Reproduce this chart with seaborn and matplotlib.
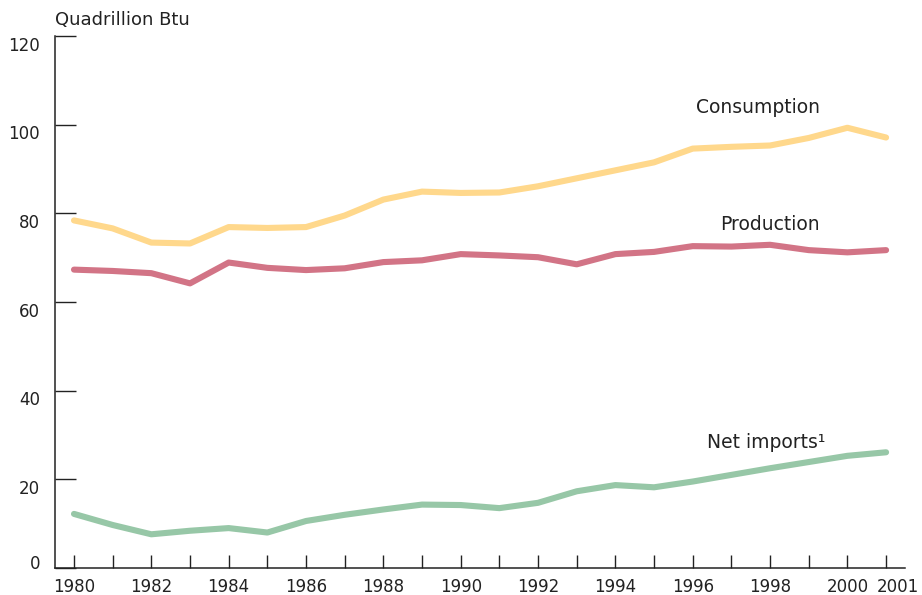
import pandas as pd
import matplotlib
matplotlib.use("Agg")
import matplotlib.pyplot as plt
import matplotlib.transforms as mtransforms
import seaborn as sns

# -----------------------------
# Data (quadrillion Btu)
# -----------------------------
years = list(range(1980, 2002))

consumption = [78.4, 76.6, 73.4, 73.2, 76.9, 76.7, 76.9, 79.5, 83.1, 84.9, 84.6,
               84.7, 86.1, 87.9, 89.7, 91.5, 94.6, 95.0, 95.3, 97.0, 99.3, 97.1]
production = [67.3, 67.0, 66.5, 64.2, 68.9, 67.7, 67.2, 67.6, 69.0, 69.4, 70.8,
              70.5, 70.1, 68.5, 70.8, 71.3, 72.6, 72.5, 72.9, 71.7, 71.2, 71.7]
net_imports = [12.2, 9.7, 7.6, 8.4, 9.0, 8.0, 10.6, 12.0, 13.2, 14.3, 14.2,
               13.5, 14.7, 17.3, 18.7, 18.2, 19.5, 21.0, 22.5, 23.9, 25.3, 26.1]

series_names = ["Consumption", "Production", "Net imports"]
colors = {"Consumption": "#FFD88C", "Production": "#D27486", "Net imports": "#97C7A7"}

df = pd.DataFrame({
    "Year": years * 3,
    "Value": consumption + production + net_imports,
    "Series": [s for s in series_names for _ in years],
})

yticks = [0, 20, 40, 60, 80, 100, 120]
xlabels = [str(y) if (y % 2 == 0 or y == 2001) else "" for y in years]

# -----------------------------
# Theme
# -----------------------------
sns.set_theme(style="ticks")
plt.rcParams["font.family"] = ["DejaVu Sans"]

fig = plt.figure(figsize=(9.22, 5.95), dpi=100)
ax = fig.add_axes([0.0597, 0.0454, 0.9219, 0.8941])

sns.lineplot(
    data=df,
    x="Year",
    y="Value",
    hue="Series",
    palette=colors,
    linewidth=4.4,
    legend=False,
    ax=ax,
)

ax.set_xlim(1979.51, 2001.49)
ax.set_ylim(0, 120)
ax.set_xlabel("")
ax.set_ylabel("")

ax.set_xticks(years)
ax.set_xticklabels(xlabels)
ax.set_yticks(yticks)

for side in ["top", "right"]:
    ax.spines[side].set_visible(False)
for side in ["left", "bottom"]:
    ax.spines[side].set_color("#222222")
    ax.spines[side].set_linewidth(1.1)

ax.tick_params(axis="x", direction="in", length=9.4, width=1.0, color="#222222",
               pad=7, labelsize=12, labelcolor="#222222")
ax.tick_params(axis="y", direction="in", length=15, width=1.0, color="#222222",
               pad=10.8, labelsize=12, labelcolor="#222222")

# y tick labels sit a little below their ticks (0 sits above)
for val, lab in zip(yticks, ax.get_yticklabels()):
    dy = 4 / 72 if val == 0 else -5.5 / 72
    lab.set_transform(lab.get_transform() + mtransforms.ScaledTranslation(0, dy, fig.dpi_scale_trans))

# last year label is nudged right so it clears 2000
last = ax.get_xticklabels()[-1]
last.set_transform(last.get_transform() + mtransforms.ScaledTranslation(12 / 100, 0, fig.dpi_scale_trans))

# -----------------------------
# Labels
# -----------------------------
fig.text(55 / 922, 1 - 20 / 595, "Quadrillion Btu", ha="left", va="center",
         fontsize=13, color="#222222")

ax.text(1999.29, 103.8, "Consumption", ha="right", va="center", fontsize=13.5, color="#222222")
ax.text(1999.29, 77.4, "Production", ha="right", va="center", fontsize=13.5, color="#222222")
ax.text(1999.42, 28.2, "Net imports¹", ha="right", va="center", fontsize=13.5, color="#222222")

plt.savefig("out.png", dpi=100)
plt.close()
